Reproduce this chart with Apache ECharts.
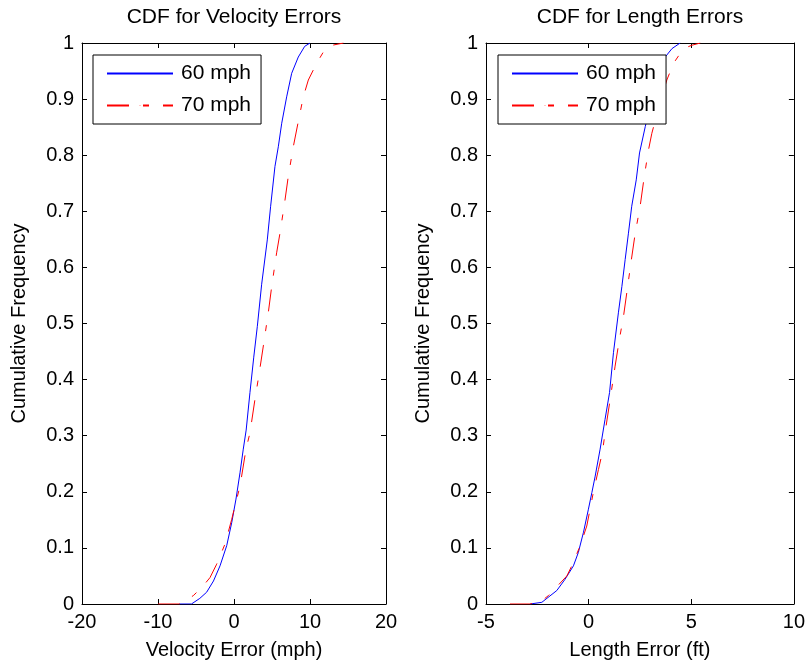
<!DOCTYPE html>
<html>
<head>
<meta charset="utf-8">
<script src="https://cdn.jsdelivr.net/npm/echarts@6/dist/echarts.min.js"></script>
<style>
  html, body { margin: 0; padding: 0; background: #fff; }
  #chart { width: 808px; height: 665px; }
</style>
</head>
<body>
<div id="chart"></div>
<script>
// CDF points: [error, cumulative frequency]
var vel60 = [[-7.2, 0], [-5.6, 0], [-4.5, 0.01], [-3.6, 0.021], [-2.7, 0.041], [-1.84, 0.068],
  [-0.96, 0.104], [-0.3, 0.145], [0.26, 0.187], [0.79, 0.234], [1.22, 0.276], [1.6, 0.31],
  [2.1, 0.377], [2.6, 0.44], [3.07, 0.495], [3.64, 0.57], [4.38, 0.649], [4.82, 0.709],
  [5.39, 0.78], [5.83, 0.815], [6.28, 0.857], [6.93, 0.904], [7.59, 0.946], [8.46, 0.975],
  [9.3, 0.994], [10.0, 1.0]];
var vel70 = [[-10, 0], [-7.2, 0], [-6.5, 0.005], [-5.35, 0.015], [-4.2, 0.03], [-3.16, 0.047],
  [-2.28, 0.071], [-1.18, 0.107], [-0.3, 0.151], [0.13, 0.175], [0.79, 0.21], [1.58, 0.276],
  [2.1, 0.305], [2.76, 0.365], [3.3, 0.41], [3.86, 0.46], [4.51, 0.519], [4.96, 0.566],
  [5.61, 0.626], [6.05, 0.661], [6.71, 0.72], [7.14, 0.762], [7.8, 0.815], [8.46, 0.86],
  [9.12, 0.904], [9.78, 0.934], [10.88, 0.964], [12.2, 0.994], [14.4, 1.0]];
var len60 = [[-2.85, 0], [-2.28, 0.003], [-1.55, 0.024], [-1.15, 0.044], [-0.74, 0.068],
  [-0.5, 0.092], [-0.25, 0.128], [-0.01, 0.169], [0.16, 0.199], [0.32, 0.228], [0.56, 0.276],
  [0.8, 0.329], [1.02, 0.377], [1.21, 0.448], [1.45, 0.519], [1.62, 0.566], [1.78, 0.614],
  [1.94, 0.661], [2.1, 0.709], [2.32, 0.756], [2.48, 0.804], [2.76, 0.851], [3.2, 0.92],
  [3.73, 0.975], [4.06, 0.99], [4.46, 1.0]];
var len70 = [[-3.83, 0], [-2.85, 0], [-2.3, 0.005], [-1.96, 0.015], [-1.06, 0.05], [-0.82, 0.068],
  [-0.41, 0.104], [-0.09, 0.139], [0.07, 0.169], [0.23, 0.199], [0.48, 0.24], [0.67, 0.27],
  [0.8, 0.305], [1.05, 0.365], [1.29, 0.424], [1.5, 0.472], [1.7, 0.513], [1.86, 0.555],
  [2.06, 0.608], [2.27, 0.661], [2.51, 0.709], [2.71, 0.762], [2.92, 0.81], [3.08, 0.839],
  [3.45, 0.89], [3.81, 0.934], [4.14, 0.964], [4.62, 0.99], [5.03, 0.996], [5.44, 1.0]];

var seriesNames = ["60 mph", "70 mph"];
var seriesColors = ["#0000ff", "#ff0000"];
var titles = ["CDF for Velocity Errors", "CDF for Length Errors"];
var xNames = ["Velocity Error (mph)", "Length Error (ft)"];
var yName = "Cumulative Frequency";
var xRanges = [[-20, 20, 10], [-5, 10, 5]];

var font = "Liberation Sans, Arial, Helvetica, sans-serif";
var line = { show: true, lineStyle: { color: "#000", width: 1 } };
var tick = { show: true, inside: true, length: 5, lineStyle: { color: "#000" } };
var dash = [22, 14, 6, 14];
var dashes = ["solid", dash];

function yFmt(v) {
  return (v === 0 || v === 1) ? String(v) : v.toFixed(1);
}

var grids = [
  { left: 82, top: 43, width: 304, height: 562 },
  { left: 486, top: 43, width: 308, height: 562 }
];

var xAxes = [], yAxes = [];
[0, 1].forEach(function (g) {
  var r = xRanges[g];
  xAxes.push({
    type: "value", gridIndex: g, position: "bottom", min: r[0], max: r[1], interval: r[2],
    name: xNames[g], nameLocation: "middle", nameGap: 36,
    nameTextStyle: { fontFamily: font, fontSize: 20, color: "#000" },
    axisLine: Object.assign({ onZero: false }, line), axisTick: tick, splitLine: { show: false },
    axisLabel: { margin: 8, fontFamily: font, fontSize: 20, color: "#000" }
  });
  xAxes.push({
    type: "value", gridIndex: g, position: "top", min: r[0], max: r[1], interval: r[2],
    axisLine: Object.assign({ onZero: false }, line), axisTick: tick, splitLine: { show: false },
    axisLabel: { show: false }
  });
  yAxes.push({
    type: "value", gridIndex: g, position: "left", min: 0, max: 1, interval: 0.1,
    name: yName, nameLocation: "middle", nameGap: 53,
    nameTextStyle: { fontFamily: font, fontSize: 20, color: "#000" },
    axisLine: Object.assign({ onZero: false }, line), axisTick: tick, splitLine: { show: false },
    axisLabel: { margin: 8, fontFamily: font, fontSize: 20, color: "#000", formatter: yFmt }
  });
  yAxes.push({
    type: "value", gridIndex: g, position: "right", min: 0, max: 1, interval: 0.1,
    axisLine: Object.assign({ onZero: false }, line), axisTick: tick, splitLine: { show: false },
    axisLabel: { show: false }
  });
});

function mkSeries(i, data, g) {
  return {
    name: seriesNames[i], type: "line", data: data, xAxisIndex: g * 2, yAxisIndex: g * 2,
    symbol: "none", smooth: false, color: seriesColors[i],
    lineStyle: { color: seriesColors[i], width: 1, type: dashes[i] }
  };
}

// a 1px item height shrinks the legend's marker dot to nothing, leaving the line sample
function mkLegend(left) {
  return {
    data: seriesNames, orient: "vertical", left: left, top: 55,
    backgroundColor: "#fff", borderColor: "#000", borderWidth: 1,
    padding: [8, 10, 8, 13], itemGap: 11, itemWidth: 66, itemHeight: 1,
    textStyle: { fontFamily: font, fontSize: 21, color: "#000", padding: [0, 0, 0, 3] }
  };
}

var chart = echarts.init(document.getElementById("chart"));
chart.setOption({
  animation: false,
  backgroundColor: "#fff",
  title: [
    { text: titles[0], left: 234, top: 7, textAlign: "center", padding: 0,
      textStyle: { fontFamily: font, fontSize: 21, fontWeight: "normal", color: "#000" } },
    { text: titles[1], left: 640, top: 7, textAlign: "center", padding: 0,
      textStyle: { fontFamily: font, fontSize: 21, fontWeight: "normal", color: "#000" } }
  ],
  legend: [mkLegend(93), mkLegend(498)],
  grid: grids,
  xAxis: xAxes,
  yAxis: yAxes,
  series: [
    mkSeries(0, vel60, 0),
    mkSeries(1, vel70, 0),
    mkSeries(0, len60, 1),
    mkSeries(1, len70, 1)
  ]
});
</script>
</body>
</html>
